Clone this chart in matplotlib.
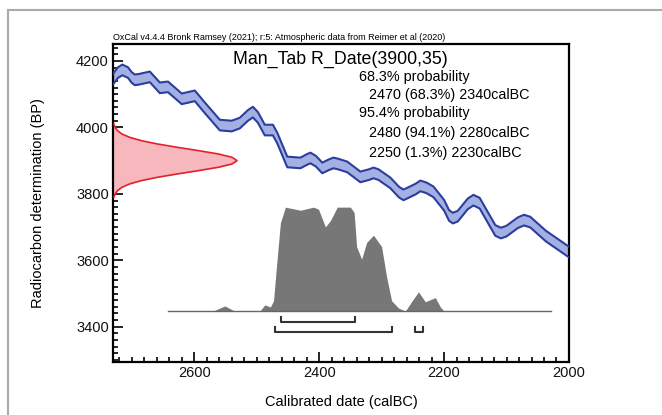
import matplotlib
matplotlib.use("Agg")
import matplotlib.pyplot as plt
from matplotlib.lines import Line2D
from matplotlib.ticker import MultipleLocator

plt.rcParams['font.family'] = ['Liberation Sans', 'DejaVu Sans']

# calibration curve (calBC, BP)
cal_bc = [2731, 2722, 2715, 2706, 2700, 2695, 2688, 2671, 2655, 2642, 2620, 2599,
          2583, 2559, 2540, 2527, 2514, 2506, 2498, 2487, 2474, 2467, 2451, 2430,
          2420, 2414, 2405, 2395, 2384, 2377, 2370, 2355, 2334, 2320, 2313, 2305,
          2286, 2272, 2265, 2258, 2245, 2238, 2228, 2217, 2200, 2192, 2186, 2178,
          2162, 2153, 2143, 2118, 2109, 2100, 2082, 2072, 2062, 2037, 2000]
cal_bp = [4143, 4165, 4173, 4165, 4150, 4143, 4145, 4152, 4119, 4122, 4086, 4095,
          4059, 4007, 4004, 4013, 4036, 4046, 4030, 3992, 3992, 3968, 3896, 3893,
          3903, 3908, 3898, 3878, 3888, 3893, 3890, 3881, 3851, 3858, 3863, 3858,
          3833, 3805, 3797, 3803, 3815, 3824, 3818, 3806, 3766, 3735, 3727, 3733,
          3770, 3781, 3772, 3690, 3682, 3688, 3713, 3721, 3715, 3673, 3625]
cal_sigma = 16

# radiocarbon date R_Date(3900,35), relative height
date_bp = [4010, 4000, 3990, 3980, 3970, 3960, 3950, 3940, 3930, 3920, 3910, 3900,
           3890, 3880, 3870, 3860, 3850, 3840, 3830, 3820, 3810, 3800, 3790]
date_h = [0.007, 0.017, 0.037, 0.073, 0.135, 0.23, 0.36, 0.52, 0.69, 0.85, 0.96, 1.0,
          0.96, 0.85, 0.69, 0.52, 0.36, 0.23, 0.135, 0.073, 0.037, 0.017, 0.007]

# calibrated distribution, relative height
post_bc = [2642, 2570, 2551, 2535, 2495, 2487, 2478, 2473, 2468, 2462, 2454, 2430,
           2409, 2401, 2390, 2382, 2371, 2350, 2344, 2340, 2332, 2324, 2313, 2300,
           2292, 2284, 2273, 2262, 2251, 2241, 2230, 2214, 2206, 2200, 2029]
post_h = [0, 0, 0.05, 0, 0, 0.06, 0.04, 0.1, 0.45, 0.85, 1.0, 0.97,
          1.0, 0.98, 0.81, 0.87, 1.0, 1.0, 0.95, 0.62, 0.50, 0.66, 0.73, 0.62,
          0.33, 0.10, 0.03, 0, 0.10, 0.185, 0.09, 0.13, 0.04, 0, 0]

range68 = [(2461, 2342)]
range95 = [(2471, 2284), (2247, 2233)]

header = "OxCal v4.4.4 Bronk Ramsey (2021); r:5: Atmospheric data from Reimer et al (2020)"
title = "Man_Tab R_Date(3900,35)"
lines = [("68.3% probability", 0),
         ("2470 (68.3%) 2340calBC", 1),
         ("95.4% probability", 0),
         ("2480 (94.1%) 2280calBC", 1),
         ("2250 (1.3%) 2230calBC", 1)]

fig = plt.figure(figsize=(6.62, 4.15), dpi=100)
ax = fig.add_axes([0.1707, 0.1277, 0.6888, 0.7663])

# calibration curve band
lo = [b - cal_sigma for b in cal_bp]
hi = [b + cal_sigma for b in cal_bp]
ax.fill_between(cal_bc, lo, hi, color='#a3b0e4', lw=0, zorder=2)
ax.plot(cal_bc, lo, color='#2c3e9c', lw=1.5, zorder=3, solid_joinstyle='round')
ax.plot(cal_bc, hi, color='#2c3e9c', lw=1.5, zorder=3, solid_joinstyle='round')

# radiocarbon date on the y axis
ytr = ax.get_yaxis_transform()
dw = [h * 0.272 for h in date_h]
ax.fill_betweenx(date_bp, 0, dw, transform=ytr, color='#f6b8bd', lw=0, zorder=2)
ax.plot(dw, date_bp, transform=ytr, color='#e3202b', lw=1.2, zorder=3)

# calibrated distribution
xtr = ax.get_xaxis_transform()
base = 0.160
ph = [base + h * 0.327 for h in post_h]
ax.fill_between(post_bc, base, ph, transform=xtr, color='#777777', lw=0, zorder=2)
ax.plot([post_bc[0], post_bc[-1]], [base, base], transform=xtr, color='#666666', lw=1, zorder=3)

# ranges
for rs, y in [(range68, 0.127), (range95, 0.093)]:
    for a, b in rs:
        ax.plot([a, a, b, b], [y + 0.016, y, y, y + 0.016], transform=xtr,
                color='#333333', lw=1.5, zorder=3)

ax.set_xlim(2730, 2000)
ax.set_ylim(3294, 4251)
ax.xaxis.set_major_locator(MultipleLocator(200))
ax.xaxis.set_minor_locator(MultipleLocator(20))
ax.yaxis.set_major_locator(MultipleLocator(200))
ax.yaxis.set_minor_locator(MultipleLocator(20))
ax.tick_params(which='both', direction='in', top=False, right=False, width=1.2,
               labelsize=10.5, pad=3, labelcolor='#111111')
ax.tick_params(which='major', length=7)
ax.tick_params(which='minor', length=3.5)
for s in ax.spines.values():
    s.set_linewidth(1.6)

ax.set_xlabel("Calibrated date (calBC)", fontsize=10.5)
ax.set_ylabel("Radiocarbon determination (BP)", fontsize=10.5)
ax.xaxis.set_label_coords(0.5, -0.105)
ax.yaxis.set_label_coords(-0.150, 0.5)

ax.text(0.0, 1.006, header, transform=ax.transAxes, fontsize=6.5, va='bottom', ha='left')
ax.text(0.263, 0.953, title, transform=ax.transAxes, fontsize=12.8, va='center', ha='left')
ys = [0.896, 0.840, 0.783, 0.720, 0.657]
for (t, ind), y in zip(lines, ys):
    ax.text(0.539 + 0.022 * ind, y, t, transform=ax.transAxes, fontsize=10.4, va='center', ha='left')

# outer gray frame (top and left)
fig.add_artist(Line2D([0.012, 1.0], [0.976, 0.976], color='#aaaaaa', lw=1.5))
fig.add_artist(Line2D([0.012, 0.012], [0.0, 0.976], color='#aaaaaa', lw=1.5))

fig.savefig("out.png", dpi=100)
